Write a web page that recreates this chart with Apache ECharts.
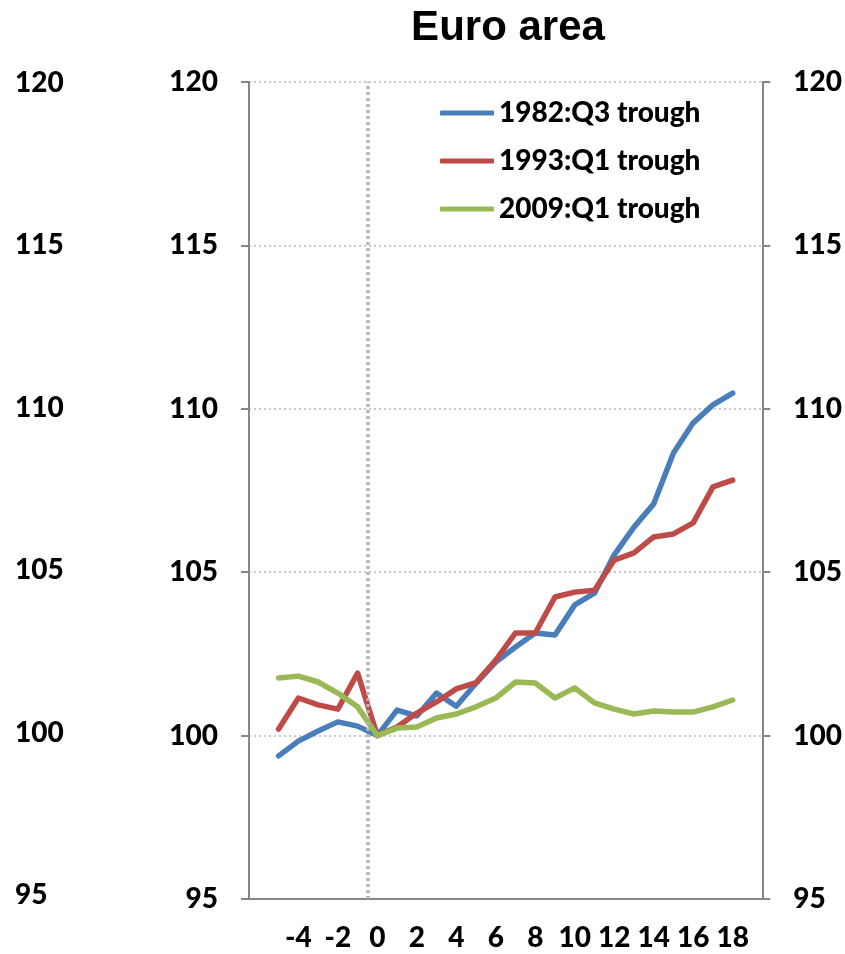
<!DOCTYPE html>
<html>
<head>
<meta charset="utf-8">
<script src="https://cdn.jsdelivr.net/npm/echarts@6/dist/echarts.min.js"></script>
<style>
  html, body { margin: 0; padding: 0; background: #fff; }
  #euro { width: 845px; height: 954px; }
</style>
</head>
<body>
<div id="euro"></div>
<script>
// quarters relative to the trough, -6 .. 19 (data runs -5 .. 18)
var quarters = []
for (var q = -6; q <= 19; q++) quarters.push(String(q))

var dataQuarters = [-5, -4, -3, -2, -1, 0, 1, 2, 3, 4, 5, 6, 7, 8, 9, 10, 11, 12, 13, 14, 15, 16, 17, 18]

var trough1982 = [99.38, 99.83, 100.14, 100.42, 100.29, 100, 100.78, 100.6, 101.3, 100.9, 101.6, 102.25,
    102.71, 103.14, 103.08, 104.0, 104.36, 105.53, 106.38, 107.09, 108.65, 109.57, 110.12, 110.48]
var trough1993 = [100.2, 101.15, 100.94, 100.81, 101.91, 100, 100.26, 100.69, 101.03, 101.43, 101.62, 102.31,
    103.14, 103.14, 104.24, 104.39, 104.45, 105.37, 105.59, 106.08, 106.17, 106.51, 107.61, 107.82]
var trough2009 = [101.76, 101.82, 101.64, 101.3, 100.88, 100, 100.23, 100.26, 100.54, 100.66, 100.88, 101.15,
    101.64, 101.61, 101.15, 101.46, 101.0, 100.81, 100.66, 100.75, 100.72, 100.72, 100.88, 101.09]

var seriesNames = ['1982:Q3 trough', '1993:Q1 trough', '2009:Q1 trough']
var seriesColors = ['#4A7EBB', '#BE4B48', '#98B954']

// the dotted marker sits on the boundary just before quarter 0
var troughMarker = -0.5

var axisGray = '#868686'
var labelFont = { fontFamily: 'Lato', fontWeight: 900, fontSize: 28, color: '#000' }

function pairs(vals) {
    return vals.map(function (v, i) { return [String(dataQuarters[i]), v] })
}

function lineSeries(i, vals) {
    return {
        name: seriesNames[i],
        type: 'line',
        xAxisIndex: 0,
        yAxisIndex: 0,
        symbol: 'none',
        lineStyle: { width: 5.5, color: seriesColors[i], cap: 'round', join: 'round' },
        itemStyle: { color: seriesColors[i] },
        data: pairs(vals)
    }
}

function valueAxis(grid, pos) {
    return {
        type: 'value',
        gridIndex: grid,
        position: pos,
        min: 95,
        max: 120,
        interval: 5,
        axisLine: { show: true, onZero: false, lineStyle: { color: axisGray, width: 2 } },
        axisTick: { show: true, length: 8, lineStyle: { color: axisGray, width: 2 } },
        axisLabel: Object.assign({ margin: 31 }, labelFont),
        splitLine: { show: false }
    }
}

const mychart = echarts.init(document.getElementById('euro'))

var leftAxis = valueAxis(0, 'left')
leftAxis.splitLine = { show: true, lineStyle: { color: '#c8c8c8', width: 2, type: [2, 3] } }

var rightAxis = valueAxis(0, 'right')

// the stray label column at the far left
var outerAxis = valueAxis(1, 'left')
outerAxis.axisLine = { show: false, onZero: false }
outerAxis.axisTick = { show: false }
outerAxis.axisLabel = Object.assign({ margin: 234, align: 'left' }, labelFont)

mychart.setOption({
    animation: false,
    title: {
        text: 'Euro area',
        left: 503,
        top: 2,
        textAlign: 'center',
        textStyle: { fontFamily: 'Liberation Sans', fontWeight: 'bold', fontSize: 42, color: '#000' }
    },
    legend: {
        orient: 'vertical',
        left: 440,
        top: 98,
        padding: 0,
        icon: 'roundRect',
        itemWidth: 54,
        itemHeight: 5,
        itemGap: 18,
        textStyle: Object.assign({ lineHeight: 30 }, labelFont),
        data: seriesNames
    },
    grid: [
        { left: 249, right: 81, top: 82, bottom: 55 },
        { left: 249, right: 81, top: 83, bottom: 59 }
    ],
    xAxis: [
        {
            type: 'category',
            gridIndex: 0,
            data: quarters,
            boundaryGap: true,
            axisLine: { onZero: false, lineStyle: { color: axisGray, width: 2 } },
            axisTick: {
                interval: function (idx) { return idx % 2 === 0 },
                length: 9,
                lineStyle: { color: axisGray, width: 2 }
            },
            axisLabel: Object.assign({
                interval: function (idx, val) {
                    var v = +val
                    return v % 2 === 0 && v >= -4 && v <= 18
                },
                margin: 25
            }, labelFont),
            splitLine: { show: false }
        },
        {
            type: 'category',
            gridIndex: 1,
            data: quarters,
            show: false
        },
        {
            type: 'value',
            gridIndex: 0,
            min: -6.5,
            max: 19.5,
            show: false
        }
    ],
    yAxis: [leftAxis, rightAxis, outerAxis],
    series: [
        {
            type: 'line',
            xAxisIndex: 2,
            yAxisIndex: 0,
            data: [],
            silent: true,
            markLine: {
                symbol: 'none',
                silent: true,
                label: { show: false },
                lineStyle: { color: '#b4b4b4', width: 3.5, type: [3, 3] },
                data: [{ xAxis: troughMarker }]
            }
        },
        lineSeries(0, trough1982),
        lineSeries(1, trough1993),
        lineSeries(2, trough2009)
    ]
})
</script>
</body>
</html>
